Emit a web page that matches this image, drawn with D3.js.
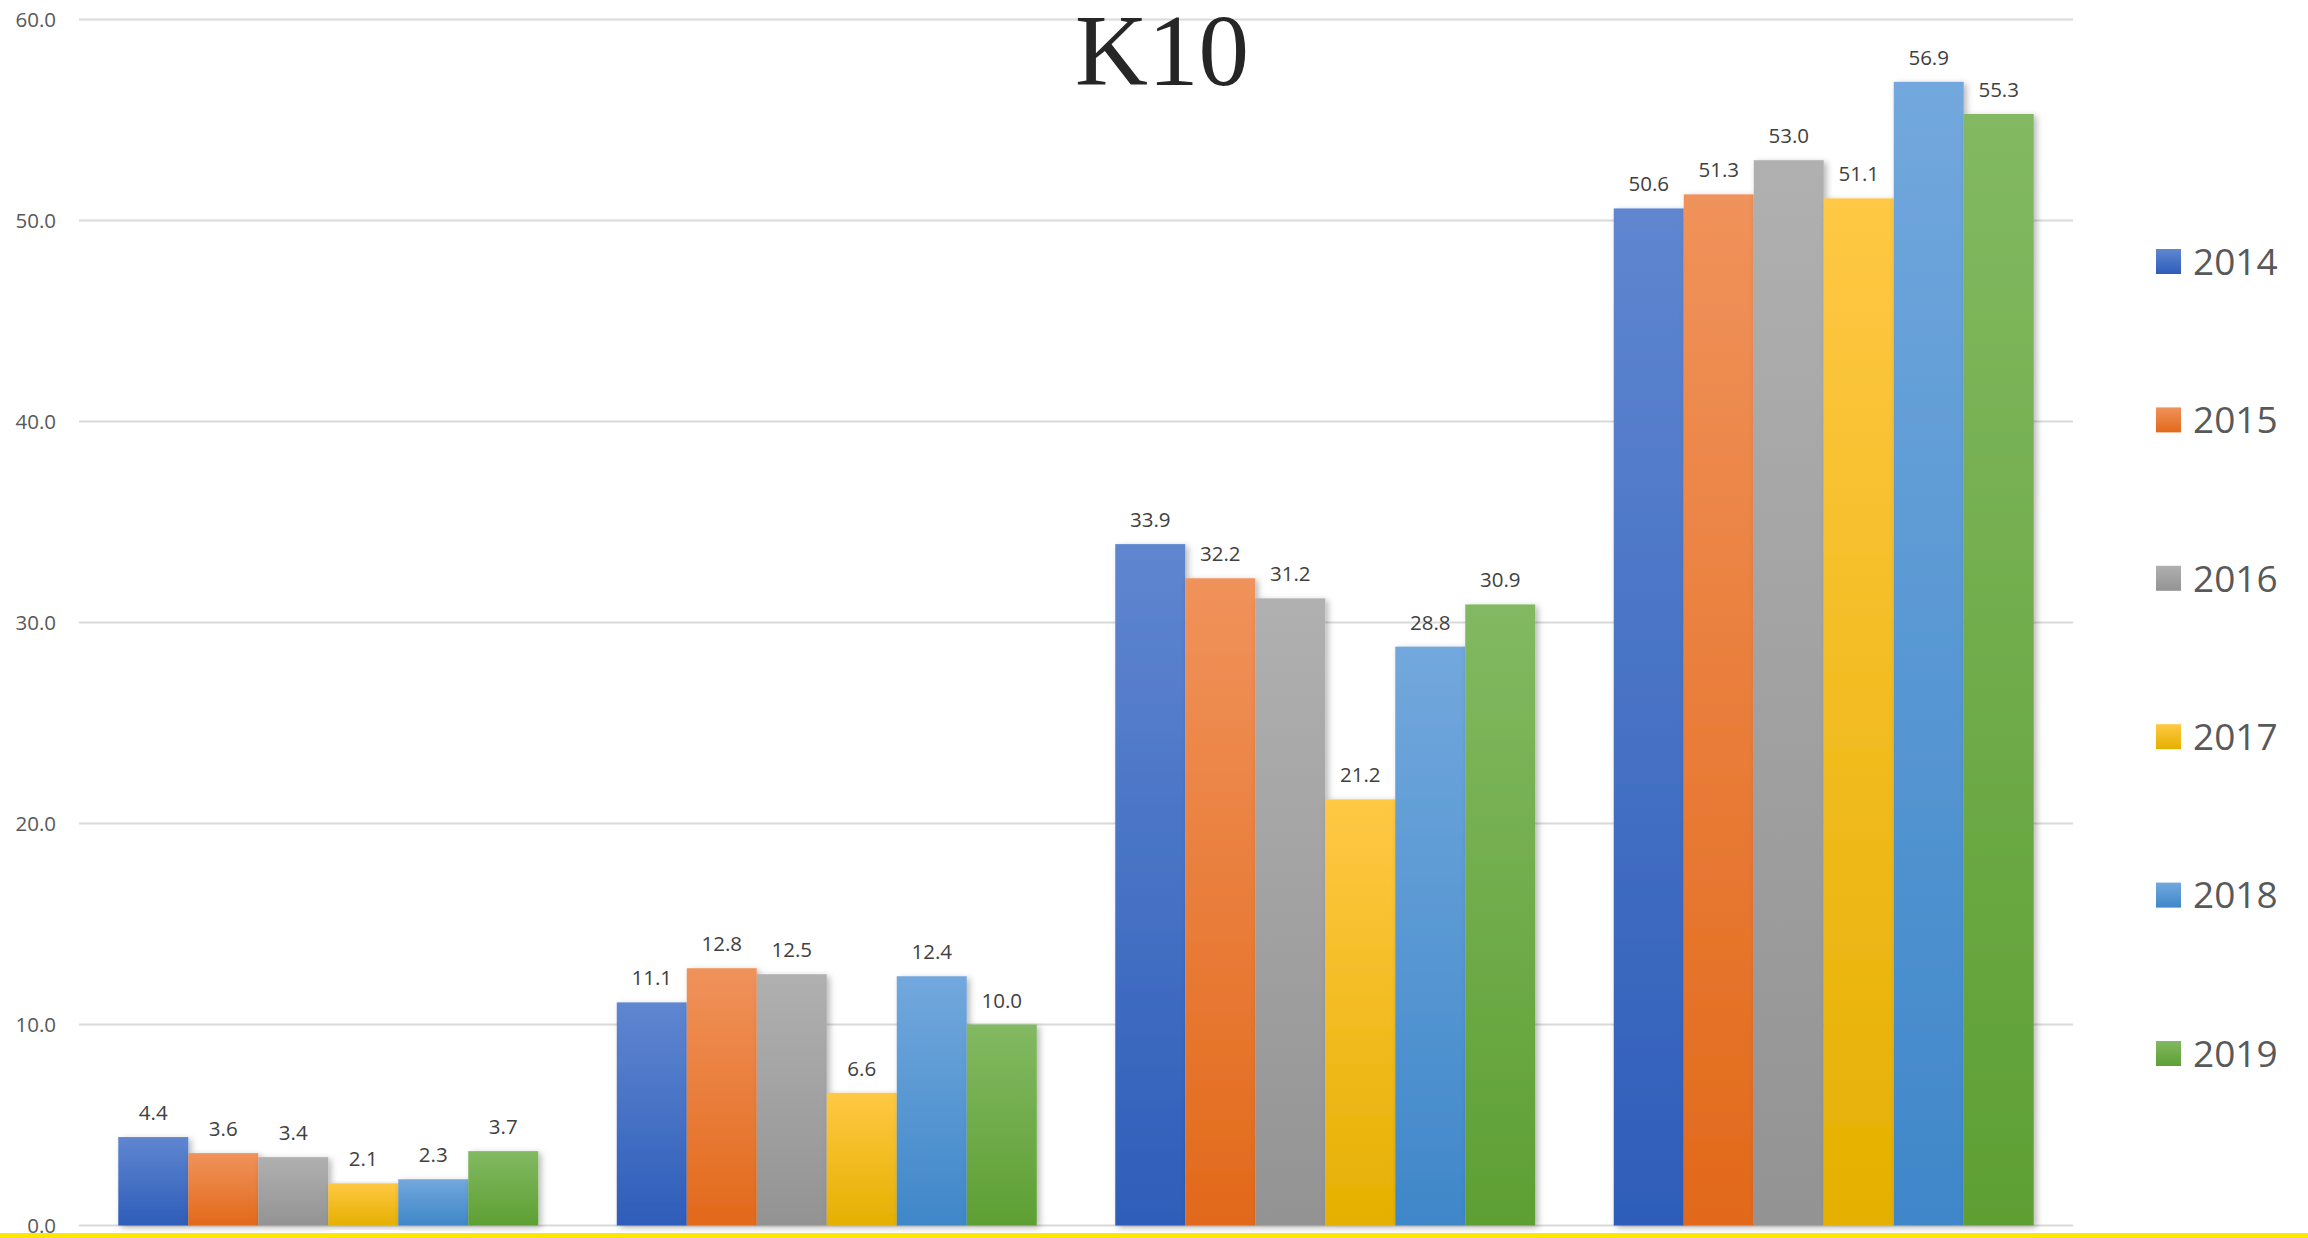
<!DOCTYPE html>
<html>
<head>
<meta charset="utf-8">
<script src="https://cdn.jsdelivr.net/npm/d3@7"></script>
<style>
  html, body { margin: 0; padding: 0; background: #fff; }
  svg { display: block; }
</style>
</head>
<body>
<svg id="chart" width="2308" height="1238"></svg>
<script>
const categories = ["A", "B", "C", "D"];
const years = ["2014", "2015", "2016", "2017", "2018", "2019"];
const values2014 = [4.4, 11.1, 33.9, 50.6];
const values2015 = [3.6, 12.8, 32.2, 51.3];
const values2016 = [3.4, 12.5, 31.2, 53.0];
const values2017 = [2.1, 6.6, 21.2, 51.1];
const values2018 = [2.3, 12.4, 28.8, 56.9];
const values2019 = [3.7, 10.0, 30.9, 55.3];
const yTicks = [0, 10, 20, 30, 40, 50, 60];
const title = "K10";

const seriesValues = [values2014, values2015, values2016, values2017, values2018, values2019];
const colorsTop = ["#5F86D0", "#F0925B", "#B0B0B0", "#FFC844", "#72A8DD", "#82B962"];
const colorsBottom = ["#2E5DB9", "#E2691A", "#939393", "#E5B000", "#3F87C9", "#5E9F33"];

const svg = d3.select("#chart");
const W = 2308, H = 1238;
const plotLeft = 79, plotRight = 2073, yTop = 19.5, yBottom = 1225.5;

const defs = svg.append("defs");
years.forEach((y, i) => {
  const g = defs.append("linearGradient").attr("id", "grad" + i)
    .attr("x1", 0).attr("y1", 0).attr("x2", 0).attr("y2", 1);
  g.append("stop").attr("offset", "0%").attr("stop-color", colorsTop[i]);
  g.append("stop").attr("offset", "100%").attr("stop-color", colorsBottom[i]);
});
const f = defs.append("filter").attr("id", "shadow")
  .attr("x", "-10%").attr("y", "-5%").attr("width", "130%").attr("height", "115%");
f.append("feDropShadow").attr("dx", 3).attr("dy", 2).attr("stdDeviation", 3)
  .attr("flood-color", "#000").attr("flood-opacity", 0.28);

const y = d3.scaleLinear().domain([0, 60]).range([yBottom, yTop]);
const x0 = d3.scaleBand().domain(categories).range([plotLeft, plotRight])
  .paddingInner(0.1575).paddingOuter(0.0788);
const x1 = d3.scaleBand().domain(years).range([0, x0.bandwidth()]).padding(0);

// gridlines
svg.append("g").selectAll("line").data(yTicks).join("line")
  .attr("x1", plotLeft).attr("x2", plotRight)
  .attr("y1", d => y(d)).attr("y2", d => y(d))
  .attr("stroke", "#D9D9D9").attr("stroke-width", 2);

// y axis labels
const yAxis = d3.axisLeft(y).tickValues(yTicks).tickFormat(d3.format(".1f")).tickSize(0).tickPadding(0);
const ya = svg.append("g").attr("transform", "translate(56,0)").call(yAxis);
ya.select(".domain").remove();
ya.selectAll("text").attr("font-family", "'Open Sans', sans-serif")
  .attr("font-size", 20.5).attr("fill", "#595959").attr("dy", "0.36em");

// title
svg.append("text").attr("x", 1162).attr("y", 85).attr("text-anchor", "middle")
  .attr("font-family", "'Liberation Serif', 'Times New Roman', serif")
  .attr("font-size", 101).attr("fill", "#262626").text(title);

// bars
const rows = categories.map((c, ci) => ({ c, vals: years.map((yr, si) => ({ yr, si, v: seriesValues[si][ci] })) }));
const groups = svg.append("g").selectAll("g").data(rows).join("g")
  .attr("transform", d => `translate(${x0(d.c)},0)`);
groups.selectAll("rect").data(d => d.vals).join("rect")
  .attr("x", d => x1(d.yr)).attr("width", x1.bandwidth())
  .attr("y", d => y(d.v)).attr("height", d => y(0) - y(d.v))
  .attr("fill", d => `url(#grad${d.si})`)
  .attr("filter", "url(#shadow)");
groups.selectAll("text").data(d => d.vals).join("text")
  .attr("x", d => x1(d.yr) + x1.bandwidth() / 2)
  .attr("y", d => y(d.v) - 17)
  .attr("text-anchor", "middle")
  .attr("font-family", "'Open Sans', sans-serif")
  .attr("font-size", 20.5).attr("fill", "#404040")
  .text(d => d3.format(".1f")(d.v));

// legend
const legend = svg.append("g").selectAll("g").data(years).join("g")
  .attr("transform", (d, i) => `translate(2156,${249 + i * 158.4})`);
legend.append("rect").attr("width", 25).attr("height", 25)
  .attr("fill", (d, i) => `url(#grad${i})`);
legend.append("text").attr("x", 37).attr("y", 12.5).attr("dy", "0.36em")
  .attr("font-family", "'Open Sans', sans-serif")
  .attr("font-size", 37).attr("fill", "#595959").text(d => d);

// yellow bottom line
svg.append("rect").attr("x", 0).attr("y", 1233).attr("width", W).attr("height", 5).attr("fill", "#FFE600");
</script>
</body>
</html>
